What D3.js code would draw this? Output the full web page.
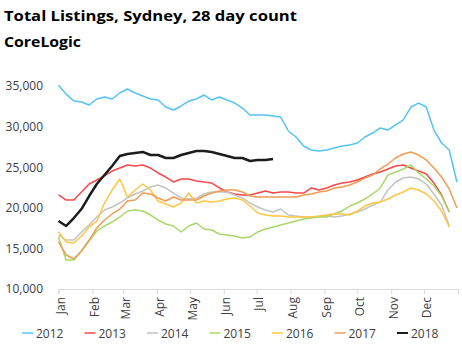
<!DOCTYPE html>
<html>
<head>
<meta charset="utf-8">
<script src="https://cdn.jsdelivr.net/npm/d3@7"></script>
<style>
  body { margin: 0; background: #fff; }
  text { font-family: "Open Sans", sans-serif; }
</style>
</head>
<body>
<svg id="chart" width="462" height="360"></svg>
<script>
// weekly values, week 0 = first week of Jan
const years = ['2012', '2013', '2014', '2015', '2016', '2017', '2018'];
const y2012 = [35100, 34000, 33150, 33030, 32660, 33400, 33650, 33400, 34140, 34630, 34140, 33770, 33400, 33280,
  32410, 32040, 32540, 33150, 33400, 33890, 33280, 33650, 33280, 32900, 32290, 31430, 31430, 31430, 31300, 31180,
  29460, 28720, 27610, 27120, 26990, 27120, 27360, 27610, 27730, 27980, 28720, 29210, 29830, 29580, 30200, 30820,
  32410, 32900, 32410, 29580, 27980, 27120, 23180];
const y2013 = [21580, 20960, 20960, 21950, 22930, 23420, 23920, 24530, 24900, 25270, 25150, 25270, 24900, 24290,
  23790, 23180, 23550, 23550, 23300, 23180, 23050, 22440, 21950, 21700, 21580, 21580, 21820, 22070, 21820, 21950,
  21950, 21820, 21820, 22440, 22190, 22440, 22810, 23050, 23180, 23420, 23790, 24160, 24410, 24780, 25150, 25270,
  24900, 24530, 24160, 23050, 21580, 19480];
const y2014 = [16650, 16030, 16030, 17020, 17880, 18870, 19730, 20100, 20590, 21210, 21700, 22070, 22560, 22810,
  22440, 21820, 21210, 21080, 21210, 21700, 21950, 21950, 21950, 21580, 21210, 20590, 20100, 19730, 19480, 19850,
  19110, 18990, 18870, 18870, 18870, 18990, 18870, 18990, 19240, 19480, 19850, 20340, 20710, 22190, 23180, 23670,
  23790, 23550, 22930, 21700, 20340, 17760];
const y2015 = [16400, 13570, 13570, 14680, 15910, 17140, 17760, 18250, 18870, 19610, 19730, 19610, 19110, 18500,
  18000, 17760, 17020, 17760, 18130, 17390, 17270, 16770, 16650, 16530, 16280, 16400, 17020, 17390, 17640, 17880,
  18130, 18370, 18620, 18740, 18870, 18870, 19240, 19610, 20220, 20590, 21080, 21700, 22440, 24040, 24410, 24780,
  25270, 24290, 23550, 22680, 21450, 19480];
const y2016 = [17020, 15790, 15660, 16530, 17640, 18370, 20590, 22190, 23550, 21330, 22190, 22930, 22190, 20840,
  20470, 20100, 20590, 21820, 20590, 20840, 20710, 20840, 21080, 21210, 20960, 20220, 19360, 19110, 18990, 18990,
  18870, 18870, 18870, 18870, 18990, 19110, 19240, 19240, 19110, 19610, 20220, 20590, 20710, 21080, 21580, 21950,
  22440, 22190, 21700, 20840, 19610, 17640];
const y2017 = [15790, 14190, 13690, 14680, 16030, 17510, 18500, 19240, 19850, 20840, 20960, 21820, 21700, 21210,
  20840, 21330, 20960, 20960, 20960, 21450, 21820, 22070, 22190, 22190, 21950, 21450, 21330, 21330, 21330, 21330,
  21330, 21330, 21580, 21700, 21950, 22070, 22440, 22560, 22810, 23180, 23670, 24040, 24780, 25390, 26130, 26630,
  26870, 26500, 25890, 24900, 23790, 22320, 19980];
const y2018 = [18370, 17760, 18740, 19850, 21450, 22930, 24040, 25150, 26380, 26630, 26750, 26880, 26500, 26500,
  26130, 26130, 26500, 26750, 27000, 27000, 26880, 26630, 26380, 26130, 26130, 25760, 25890, 25890, 26010];
const seriesValues = [y2012, y2013, y2014, y2015, y2016, y2017, y2018];
const colors = ['#55c4f2', '#f8484a', '#c3c3c3', '#a8d86a', '#fcc742', '#f29b55', '#1c1c1c'];

const months = ['Jan', 'Feb', 'Mar', 'Apr', 'May', 'Jun', 'Jul', 'Aug', 'Sep', 'Oct', 'Nov', 'Dec'];
const monthStart = [0, 31, 59, 90, 120, 151, 181, 212, 243, 273, 304, 334];
const yTicks = [10000, 15000, 20000, 25000, 30000, 35000];

const svg = d3.select('#chart');

svg.append('text')
  .attr('x', 4).attr('y', 21)
  .attr('font-size', 14.5).attr('font-weight', 'bold').attr('fill', '#000')
  .attr('textLength', 293).attr('lengthAdjust', 'spacingAndGlyphs')
  .text('Total Listings, Sydney, 28 day count');
svg.append('text')
  .attr('x', 4).attr('y', 47)
  .attr('font-size', 14.5).attr('font-weight', 'bold').attr('fill', '#000')
  .attr('textLength', 77).attr('lengthAdjust', 'spacingAndGlyphs')
  .text('CoreLogic');

const x = d3.scaleLinear().domain([0, 365]).range([58.5, 458]);
const y = d3.scaleLinear().domain([10000, 35000]).range([289, 86]);

// y axis, labels only
const yAxis = svg.append('g')
  .attr('transform', 'translate(46,0)')
  .call(d3.axisLeft(y).tickValues(yTicks).tickFormat(d3.format(',')).tickSize(0).tickPadding(3));
yAxis.select('.domain').remove();
yAxis.selectAll('text').attr('font-size', 12).attr('fill', '#404040')
  .attr('font-family', '"Open Sans", sans-serif');

// x axis
const xAxis = svg.append('g')
  .attr('transform', `translate(0,${y(10000)})`)
  .call(d3.axisBottom(x).tickValues([...monthStart, 365])
    .tickFormat((d, i) => months[i] || '').tickSize(5).tickPadding(6));
xAxis.select('.domain').attr('stroke', '#d9d9d9');
xAxis.selectAll('.tick line').attr('stroke', '#d9d9d9');
xAxis.selectAll('text')
  .attr('font-size', 12).attr('fill', '#404040')
  .attr('font-family', '"Open Sans", sans-serif')
  .attr('transform', 'rotate(-90)')
  .attr('text-anchor', 'end')
  .attr('x', -8).attr('y', 0).attr('dy', '0.35em')
  .attr('dx', 0);
xAxis.selectAll('.tick text').attr('transform', 'translate(2,0) rotate(-90)');

const line = d3.line()
  .x((d, i) => x(i * 7))
  .y(d => y(d));

svg.append('g')
  .selectAll('path')
  .data(seriesValues)
  .enter()
  .append('path')
    .attr('d', d => line(d))
    .attr('fill', 'none')
    .attr('stroke', (d, i) => colors[i])
    .attr('stroke-width', (d, i) => i === 6 ? 2.5 : 1.5)
    .attr('stroke-linejoin', 'round');

// legend
const legend = svg.append('g')
  .selectAll('g')
  .data(years)
  .enter()
  .append('g')
    .attr('transform', (d, i) => `translate(${22 + i * 62.5},333)`);
legend.append('line')
  .attr('x1', 0).attr('x2', 11)
  .attr('stroke', (d, i) => colors[i])
  .attr('stroke-width', (d, i) => i === 6 ? 2 : 1.5);
legend.append('text')
  .attr('x', 14).attr('y', 4.5)
  .attr('font-size', 12).attr('fill', '#404040')
  .text(d => d);
</script>
</body>
</html>
